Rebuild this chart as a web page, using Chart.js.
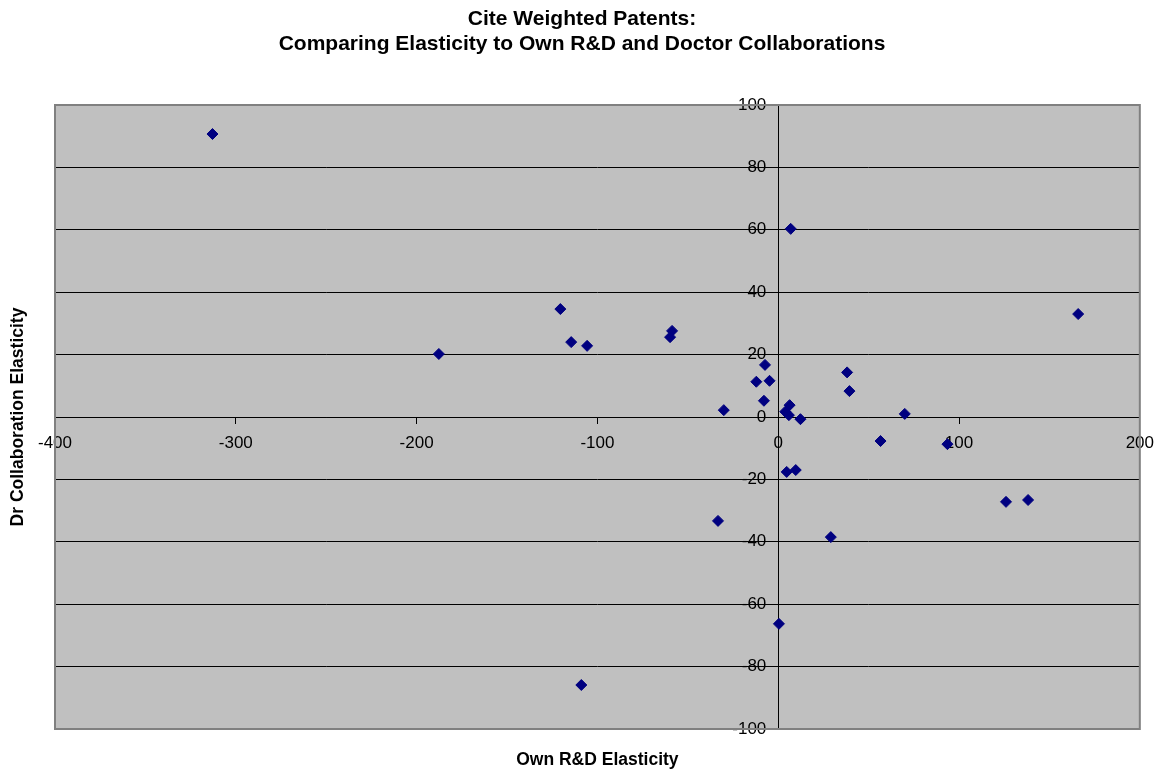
<!DOCTYPE html>
<html>
<head>
<meta charset="utf-8">
<script src="https://cdn.jsdelivr.net/npm/chart.js@4"></script>
<style>
  html, body { margin: 0; padding: 0; background: #fff; }
  #wrap { width: 1164px; height: 775px; }
</style>
</head>
<body>
<div id="wrap"><canvas id="elasticityChart"></canvas></div>
<script>
// Own R&D elasticity (x) vs Dr collaboration elasticity (y)
const ownRD = [-312.9, 6.9, 165.9, -120.5, -114.5, -105.7, -58.7, -59.8, -187.7,
    -7.3, -12.1, -4.8, -7.9, -30.1, 6.3, 3.9, 5.9, 12.3, 38.1, 39.4,
    70.0, 56.6, 93.6, 4.7, 9.7, 126.0, 138.2, -33.3, 29.1, 0.4, -108.9];
const drCollab = [90.7, 60.3, 33.0, 34.6, 24.0, 22.8, 27.6, 25.6, 20.2,
    16.7, 11.3, 11.6, 5.2, 2.2, 3.8, 1.7, 0.6, -0.7, 14.3, 8.3,
    1.0, -7.7, -8.7, -17.6, -17.0, -27.2, -26.6, -33.3, -38.5, -66.3, -85.9];

const xTicks = [-400, -300, -200, -100, 0, 100, 200];
const yTicks = [-100, -80, -60, -40, -20, 0, 20, 40, 60, 80, 100];

const titleLines = ['Cite Weighted Patents:', 'Comparing Elasticity to Own R&D and Doctor Collaborations'];

const points = ownRD.map((x, i) => ({ x: x, y: drCollab[i] }));

// grey plot area, title and axis titles
const plotFrame = {
    id: 'plotFrame',
    beforeDraw(chart) {
        const { ctx, chartArea: a } = chart;
        ctx.save();
        ctx.fillStyle = '#c0c0c0';
        ctx.fillRect(a.left, a.top, a.right - a.left, a.bottom - a.top);
        ctx.restore();
    },
    afterDraw(chart) {
        const { ctx, chartArea: a, width } = chart;
        ctx.save();
        ctx.strokeStyle = '#808080';
        ctx.lineWidth = 2;
        ctx.strokeRect(a.left, a.top, a.right - a.left, a.bottom - a.top);

        ctx.fillStyle = '#000';
        ctx.textAlign = 'center';
        ctx.textBaseline = 'middle';

        // title is centred on the whole canvas, not on the plot
        ctx.font = 'bold 21px "Liberation Sans", Arial, sans-serif';
        ctx.fillText(titleLines[0], width / 2, 19);
        ctx.fillText(titleLines[1], width / 2, 44);

        ctx.font = 'bold 17.5px "Liberation Sans", Arial, sans-serif';
        ctx.fillText('Own R&D Elasticity', (a.left + a.right) / 2, a.bottom + 31);

        ctx.translate(a.left - 37, (a.top + a.bottom) / 2);
        ctx.rotate(-Math.PI / 2);
        ctx.fillText('Dr Collaboration Elasticity', 0, 0);
        ctx.restore();
    }
};

const tickFont = { family: '"Liberation Sans", Arial, sans-serif', size: 17 };

new Chart(document.getElementById('elasticityChart'), {
    type: 'scatter',
    data: {
        datasets: [{
            data: points,
            pointStyle: 'rectRot',
            pointRadius: 5.5,
            pointHoverRadius: 5.5,
            backgroundColor: '#000080',
            borderColor: '#000080',
            borderWidth: 1
        }]
    },
    options: {
        responsive: true,
        maintainAspectRatio: false,
        animation: false,
        layout: { padding: { left: 55, right: 21, bottom: 46, top: 105 } },
        plugins: {
            legend: { display: false },
            tooltip: { enabled: false },
            title: { display: false }
        },
        scales: {
            x: {
                type: 'linear',
                position: { y: 0 },
                min: xTicks[0],
                max: xTicks[xTicks.length - 1],
                afterFit: s => { s.height = 0; },
                afterBuildTicks: s => { s.ticks = xTicks.map(v => ({ value: v })); },
                ticks: { color: '#000', font: tickFont, padding: 10, maxRotation: 0, autoSkip: false },
                grid: { drawOnChartArea: false, drawTicks: true, tickLength: 6, color: '#000' },
                border: { color: '#000', width: 1 }
            },
            y: {
                type: 'linear',
                position: { x: 0 },
                min: yTicks[0],
                max: yTicks[yTicks.length - 1],
                afterFit: s => { s.width = 0; },
                afterBuildTicks: s => { s.ticks = yTicks.map(v => ({ value: v })); },
                // labels sit left of the centre axis
                ticks: { color: '#000', font: tickFont, autoSkip: false, callback: v => v + '\u2002\u2009' },
                grid: { color: '#000', tickLength: 6 },
                border: { color: '#000', width: 1 }
            }
        }
    },
    plugins: [plotFrame]
});
</script>
</body>
</html>
